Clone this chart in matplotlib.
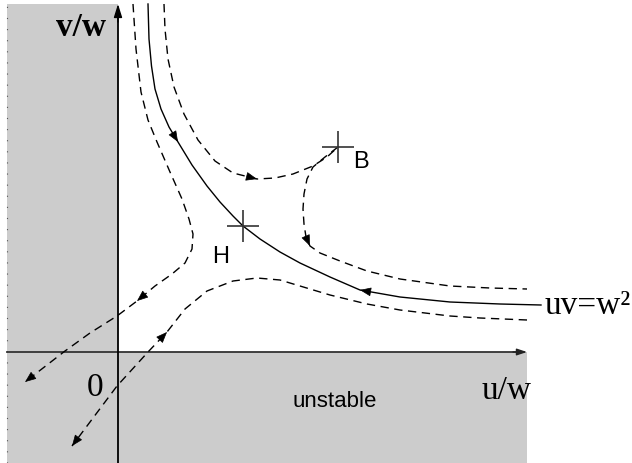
import matplotlib
matplotlib.use("Agg")
import matplotlib.pyplot as plt
from matplotlib.patches import Rectangle
import numpy as np

# ---- data (schematic phase portrait in u/w, v/w units) ----
solid_u = [0.30, 0.31, 0.335, 0.37, 0.43, 0.51, 0.60, 0.74, 0.89, 1.02, 1.15, 1.25, 1.42, 1.62, 1.82, 2.12, 2.42, 2.82, 3.32, 3.82, 4.23]
solid_v = [3.48, 3.13, 2.86, 2.63, 2.43, 2.25, 2.10, 1.87, 1.66, 1.50, 1.36, 1.26, 1.13, 1.00, 0.89, 0.75, 0.62, 0.55, 0.50, 0.48, 0.47]

a_u = [0.46, 0.47, 0.50, 0.56, 0.66, 0.80, 0.97, 1.15, 1.39, 1.57, 1.75, 1.95, 2.09, 2.20]
a_v = [3.48, 3.23, 2.93, 2.65, 2.38, 2.12, 1.91, 1.79, 1.73, 1.74, 1.78, 1.86, 1.95, 2.05]

c_u = [2.20, 2.07, 1.95, 1.89, 1.86, 1.85, 1.86, 1.88, 1.92, 2.02, 2.22, 2.49, 2.82, 3.32, 3.72, 4.09]
c_v = [2.05, 1.95, 1.85, 1.73, 1.58, 1.43, 1.28, 1.15, 1.06, 0.99, 0.91, 0.81, 0.73, 0.66, 0.64, 0.63]

d_u = [0.15, 0.18, 0.23, 0.30, 0.39, 0.52, 0.64, 0.71, 0.75, 0.74, 0.67, 0.54, 0.37, 0.19, -0.01, -0.28, -0.53, -0.93]
d_v = [3.48, 3.03, 2.60, 2.32, 2.10, 1.80, 1.53, 1.33, 1.18, 1.03, 0.89, 0.78, 0.66, 0.51, 0.36, 0.19, 0.01, -0.30]

e_u = [4.09, 3.62, 3.32, 2.82, 2.49, 2.12, 1.82, 1.62, 1.39, 1.15, 0.89, 0.67, 0.49, 0.30, -0.01, -0.46]
e_v = [0.32, 0.34, 0.36, 0.42, 0.48, 0.57, 0.66, 0.72, 0.74, 0.71, 0.61, 0.43, 0.20, 0.00, -0.34, -0.94]

# arrows: (curve, index, direction +1 forward / -1 backward)
arrows = [("solid", 6, 1), ("solid", 16, -1), ("a", 8, 1), ("c", 8, 1),
          ("d", 13, 1), ("d", 17, 1), ("e", 12, -1), ("e", 15, 1)]

points_u = [1.25, 2.20]
points_v = [1.26, 2.05]
point_labels = ["H", "B"]

u_min, u_max = -1.18, 5.14
v_min, v_max = -1.11, 3.53

plt.rcParams['font.family'] = ['Liberation Serif', 'DejaVu Serif']

fig = plt.figure(figsize=(6.32, 4.64), dpi=100)
ax = fig.add_axes([0, 0, 1, 1])
ax.set_xlim(u_min, u_max)
ax.set_ylim(v_min, v_max)
ax.axis('off')

gray = '#cccccc'
ax.add_patch(Rectangle((-1.11, -1.11), 1.11, 3.48 + 1.11, facecolor=gray, edgecolor='none', zorder=0))
ax.add_patch(Rectangle((-1.11, -1.11), 4.09 + 1.11, 1.11, facecolor=gray, edgecolor='none', zorder=0))
ax.plot([-1.11, -1.11], [-1.11, 3.48], color='#555555', lw=0.8, ls=(0, (1, 9)), zorder=1)

# axes
ax.plot([-1.11, 4.05], [0, 0], color='#333333', lw=1.3, zorder=2)
ax.annotate('', xy=(4.09, 0), xytext=(3.95, 0),
            arrowprops=dict(arrowstyle='-|>,head_length=0.6,head_width=0.2', mutation_scale=10,
                            color='#222222', lw=1.0, shrinkA=0, shrinkB=0))
ax.plot([0, 0], [v_min, 3.40], color='black', lw=1.3, zorder=2)
ax.annotate('', xy=(0, 3.48), xytext=(0, 3.30),
            arrowprops=dict(arrowstyle='-|>,head_length=0.8,head_width=0.25', mutation_scale=10,
                            color='black', lw=1.0, shrinkA=0, shrinkB=0))

curves = {"solid": (solid_u, solid_v), "a": (a_u, a_v), "c": (c_u, c_v),
          "d": (d_u, d_v), "e": (e_u, e_v)}

ax.plot(solid_u, solid_v, color='black', lw=1.0, zorder=3, solid_joinstyle='round')
for key in ["a", "c", "d", "e"]:
    u, v = curves[key]
    ax.plot(u, v, color='black', lw=1.0, dashes=(6, 4), zorder=3)

for key, i, s in arrows:
    u, v = curves[key]
    j = i - s if 0 <= i - s < len(u) else i + s
    du = u[i] - u[j] if j == i - s else u[j] - u[i]
    dv = v[i] - v[j] if j == i - s else v[j] - v[i]
    n = np.hypot(du, dv)
    du, dv = du / n * 0.05, dv / n * 0.05
    ax.annotate('', xy=(u[i], v[i]), xytext=(u[i] - du, v[i] - dv),
                arrowprops=dict(arrowstyle='-|>,head_length=0.7,head_width=0.28', mutation_scale=10,
                                color='black', lw=0.5, shrinkA=0, shrinkB=0), zorder=4)

ax.plot(points_u, points_v, linestyle='none', marker='+', ms=23, mew=1.2, color='#333333', zorder=5)
ax.text(points_u[0] - 0.22, points_v[0] - 0.30, point_labels[0], family='Liberation Sans',
        fontsize=17, ha='center', va='center')
ax.text(points_u[1] + 0.23, points_v[1] - 0.14, point_labels[1], family='Liberation Sans',
        fontsize=17, ha='center', va='center')

ax.text(-0.37, 3.25, 'v/w', fontsize=24, fontweight='bold', ha='center', va='center')
ax.text(3.89, -0.38, 'u/w', fontsize=24, ha='center', va='center')
ax.text(4.27, 0.47, 'uv=w²', fontsize=24, ha='left', va='center')
ax.text(-0.23, -0.35, '0', fontsize=24, ha='center', va='center')
ax.text(2.17, -0.49, 'unstable', family='Liberation Sans', fontsize=16, ha='center', va='center')

fig.savefig('out.png', dpi=100)
